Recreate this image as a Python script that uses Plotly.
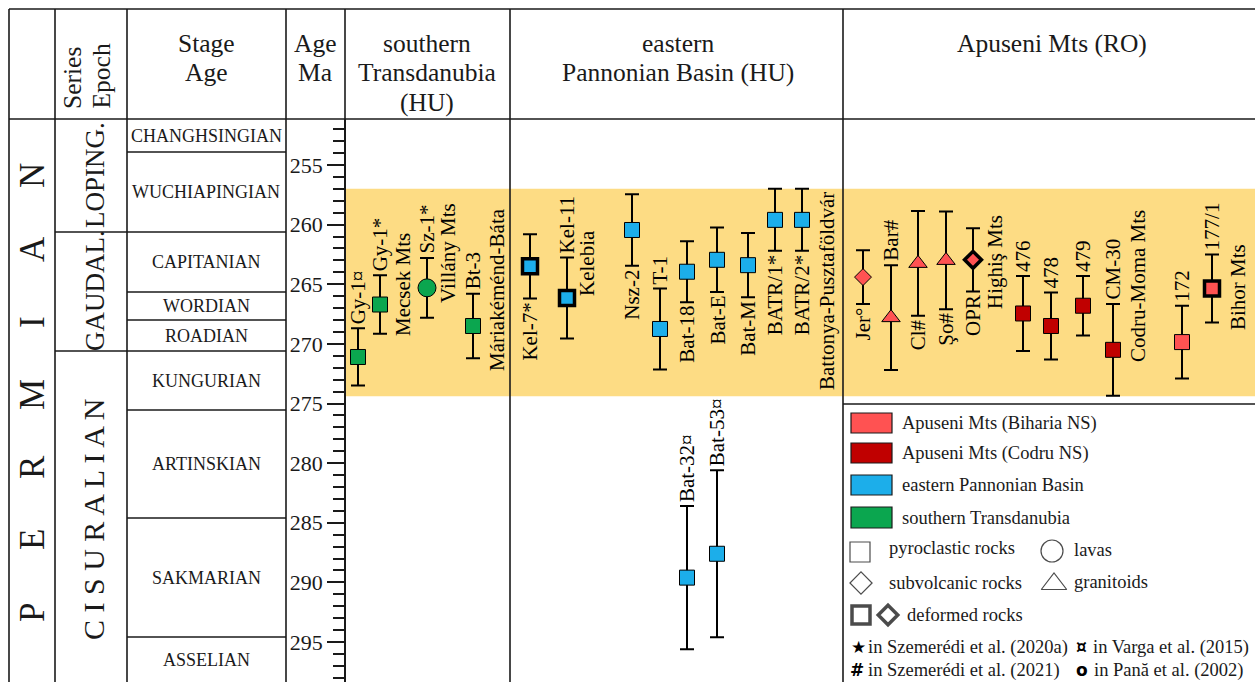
import plotly.graph_objects as go

W, H = 1255, 682
FONT = "Liberation Serif"
INK = "#1a1a1a"

# ---------------- data ----------------
system_name = "PERMIAN"
series_names = ["LOPING.", "GAUDAL.", "C I S U R A L I A N"]
stage_names = ["CHANGHSINGIAN", "WUCHIAPINGIAN", "CAPITANIAN", "WORDIAN", "ROADIAN",
               "KUNGURIAN", "ARTINSKIAN", "SAKMARIAN", "ASSELIAN"]
age_major_ticks = [255, 260, 265, 270, 275, 280, 285, 290, 295]

sample_names = ["Gy-1¤", "Gy-1*", "Sz-1*", "Bt-3",
                "Kel-7*", "Kel-11", "Nsz-2", "T-1", "Bat-18", "Bat-E", "Bat-M",
                "BATR/1*", "BATR/2*", "Bat-32¤", "Bat-53¤",
                "Jer°", "Bar#", "Cl#", "Şo#", "OPR",
                "476", "478", "479", "CM-30", "172", "177/1"]
sample_ages = [271.1, 266.7, 265.3, 268.5,
               263.5, 266.15, 260.45, 268.75, 263.95, 262.95, 263.4,
               259.6, 259.6, 289.6, 287.6,
               264.4, 267.8, 263.25, 263.0, 262.95,
               267.45, 268.5, 266.8, 270.5, 269.85, 265.35]
sample_errs = [2.4, 2.45, 2.5, 2.7,
               2.7, 3.4, 3.0, 3.4, 2.55, 2.7, 2.7,
               2.6, 2.6, 6.0, 7.0,
               2.25, 4.4, 4.4, 4.1, 2.65,
               3.15, 2.8, 2.5, 3.85, 3.05, 2.85]
sample_group = ["ST"] * 4 + ["EPB"] * 11 + ["BNS"] * 5 + ["CNS"] * 4 + ["BNS"] * 2
sample_rock = (["pyro", "pyro", "lava", "pyro"] + ["pyro"] * 11 +
               ["subv", "gran", "gran", "gran", "subv"] + ["pyro"] * 6)
sample_deformed = [False] * 4 + [True, True] + [False] * 9 + \
                  [False, False, False, False, True] + [False] * 5 + [True]

locality_names = ["Mecsek Mts", "Villány Mts", "Máriakéménd-Báta", "Kelebia",
                  "Battonya-Pusztaföldvár", "Highiş Mts", "Codru-Moma Mts", "Bihor Mts"]

group_keys = ["BNS", "CNS", "EPB", "ST"]
group_names = ["Apuseni Mts (Biharia NS)", "Apuseni Mts (Codru NS)",
               "eastern Pannonian Basin", "southern Transdanubia"]
rock_names = ["pyroclastic rocks", "lavas", "subvolcanic rocks", "granitoids", "deformed rocks"]
ref_marks = ["★", "¤", "#", "o"]
ref_texts = ["in Szemerédi et al. (2020a)", "in Varga et al. (2015)",
             "in Szemerédi et al. (2021)", "in Pană et al. (2002)"]

header_lines = [["Stage", "Age"], ["Age", "Ma"], ["southern", "Transdanubia", "(HU)"],
                ["eastern", "Pannonian Basin (HU)"], ["Apuseni Mts (RO)"]]
series_header = ["Series", "Epoch"]
highlight_band = [257.0, 274.4]

# ---------------- styles / layout positions ----------------
group_colors = {"BNS": "#FF5252", "CNS": "#C00000", "EPB": "#1CAEEA", "ST": "#0BA64F"}
rock_symbols = {"pyro": "square", "lava": "circle", "subv": "diamond", "gran": "triangle-up"}
rock_sizes = {"pyro": 15, "lava": 18, "subv": 13, "gran": 16}

sample_x = [358, 380, 427, 473,
            530, 567, 632, 660, 687, 717, 748, 775, 802, 687, 717,
            863, 891, 918, 946, 973,
            1023, 1051, 1083, 1113, 1182, 1212]
label_above = [True, True, True, True,
               False, True, False, True, False, False, False, False, False, True, True,
               False, True, False, False, False,
               True, True, True, True, True, True]
locality_xy = [(403, 285), (448, 253), (497, 290), (587, 263),
               (827, 291), (995, 262), (1138, 286), (1238, 287)]

stage_bounds_px = [119, 152, 232, 292, 320, 351, 410, 518, 637, 682]
series_bounds_px = [119, 232, 351, 682]
series_label_px = [(95, 175, 27), (95, 291, 27), (93, 520, 30)]
system_letter_y = [613, 540, 467, 395, 322, 249, 176]
col_lines_x = [9, 55, 127, 286, 345, 510, 843]
header_x = [206, 315, 427, 678, 1052]
header_y0 = 43
header_dy = 29.5

# age axis calibration: pixel 165 -> 255 Ma, pixel 642 -> 295 Ma
PX_PER_MA = (642 - 165) / 40.0
AX_TOP_PX = 119
age_top = 255 - (165 - AX_TOP_PX) / PX_PER_MA
age_bot = 255 + (H - 165) / PX_PER_MA

fig = go.Figure()

# ---------------- sample markers ----------------
for i, name in enumerate(sample_names):
    rock = sample_rock[i]
    deformed = sample_deformed[i]
    fig.add_trace(go.Scatter(
        x=[sample_x[i]], y=[sample_ages[i]], mode="markers", name=name,
        xaxis="x", yaxis="y", showlegend=False, hoverinfo="skip",
        marker=dict(symbol=rock_symbols[rock], size=rock_sizes[rock],
                    color=group_colors[sample_group[i]],
                    line=dict(color="black", width=3.5 if deformed else 1)),
        error_y=dict(type="data", array=[sample_errs[i]], symmetric=True,
                     color="black", thickness=2, width=7),
    ))

annotations = []
for i, name in enumerate(sample_names):
    if label_above[i]:
        yv, ya, ys = sample_ages[i] - sample_errs[i], "bottom", 2
    else:
        yv, ya, ys = sample_ages[i] + sample_errs[i], "top", -2
    annotations.append(dict(x=sample_x[i], y=yv, xref="x", yref="y", text=name,
                            textangle=-90, showarrow=False, xanchor="center",
                            yanchor=ya, yshift=ys,
                            font=dict(family=FONT, size=21, color="black")))

for name, (px, py) in zip(locality_names, locality_xy):
    annotations.append(dict(x=px, y=py, xref="x2", yref="y2", text=name, textangle=-90,
                            showarrow=False, xanchor="center", yanchor="middle",
                            font=dict(family=FONT, size=21, color="black")))

# ---------------- table text ----------------
for letter, py in zip(system_name, system_letter_y):
    annotations.append(dict(x=32, y=py, xref="x2", yref="y2", text=letter, textangle=-90,
                            showarrow=False, font=dict(family=FONT, size=35, color=INK)))
for name, (px, py, fs) in zip(series_names, series_label_px):
    annotations.append(dict(x=px, y=py, xref="x2", yref="y2", text=name, textangle=-90,
                            showarrow=False, font=dict(family=FONT, size=fs, color=INK)))
for k, name in enumerate(stage_names):
    yc = (stage_bounds_px[k] + stage_bounds_px[k + 1]) / 2
    annotations.append(dict(x=206, y=yc, xref="x2", yref="y2", text=name,
                            showarrow=False, font=dict(family=FONT, size=18, color=INK)))
for hx, lines in zip(header_x, header_lines):
    for j, t in enumerate(lines):
        annotations.append(dict(x=hx, y=header_y0 + j * header_dy, xref="x2", yref="y2",
                                text=t, showarrow=False,
                                font=dict(family=FONT, size=25.5, color=INK)))
for t, px in zip(series_header, [72, 101]):
    annotations.append(dict(x=px, y=111, xref="x2", yref="y2", text=t, textangle=-90,
                            showarrow=False, yanchor="bottom",
                            font=dict(family=FONT, size=25.5, color=INK)))

# ---------------- legend ----------------
shapes = []
leg_rect_y = [(413, 433), (443, 463), (475, 495), (507, 528)]
for key, label, (y0, y1) in zip(group_keys, group_names, leg_rect_y):
    shapes.append(dict(type="rect", xref="x2", yref="y2", x0=851, x1=892, y0=y0, y1=y1,
                       fillcolor=group_colors[key], line=dict(color=INK, width=1.2)))
    annotations.append(dict(x=900, y=(y0 + y1) / 2, xref="x2", yref="y2", text=label,
                            showarrow=False, xanchor="left",
                            font=dict(family=FONT, size=18.5, color=INK)))

rock_text_xy = [(887, 548), (1072, 550), (887, 583), (1072, 582), (905, 615)]
for label, (px, py) in zip(rock_names, rock_text_xy):
    annotations.append(dict(x=px, y=py, xref="x2", yref="y2", text=label,
                            showarrow=False, xanchor="left",
                            font=dict(family=FONT, size=18.5, color=INK)))

fig.add_trace(go.Scatter(
    x=[860, 1052, 861, 1054], y=[552, 551, 583, 584],
    xaxis="x2", yaxis="y2", mode="markers", showlegend=False, hoverinfo="skip",
    marker=dict(symbol=["square", "circle", "diamond", "triangle-up"],
                size=[20, 22, 17, 22], color="white",
                line=dict(color="black", width=1.2))))
fig.add_trace(go.Scatter(
    x=[861, 888], y=[615, 615],
    xaxis="x2", yaxis="y2", mode="markers", showlegend=False, hoverinfo="skip",
    marker=dict(symbol=["square", "diamond"], size=[18, 15], color="white",
                line=dict(color="black", width=3.5))))

ref_xy = [(858, 866, 647), (1081, 1091, 647), (857, 866, 670), (1082, 1092, 670)]
for mark, text, (mx, tx, py) in zip(ref_marks, ref_texts, ref_xy):
    annotations.append(dict(x=mx, y=py, xref="x2", yref="y2",
                            text="<b>%s</b>" % mark, showarrow=False,
                            font=dict(family="DejaVu Sans", size=17 if mark == "★" else 17,
                                      color="black")))
    annotations.append(dict(x=tx, y=py, xref="x2", yref="y2", text=text, showarrow=False,
                            xanchor="left", font=dict(family=FONT, size=18.5, color=INK)))

# ---------------- grid of the table ----------------
shapes.append(dict(type="rect", xref="x", yref="y", x0=346, x1=W,
                   y0=highlight_band[0], y1=highlight_band[1],
                   fillcolor="#FDDC84", line=dict(width=0), layer="below"))


def hline(y, x0, x1):
    shapes.append(dict(type="line", xref="x2", yref="y2", x0=x0, x1=x1, y0=y, y1=y,
                       line=dict(color=INK, width=1.6)))


def vline(x, y0, y1):
    shapes.append(dict(type="line", xref="x2", yref="y2", x0=x, x1=x, y0=y0, y1=y1,
                       line=dict(color=INK, width=1.6)))


hline(9, 9, W)
hline(119, 9, W)
for b in stage_bounds_px[1:-1]:
    hline(b, 127, 286)
for b in series_bounds_px[1:-1]:
    hline(b, 55, 127)
hline(404, 843, W)
for cx in col_lines_x:
    vline(cx, 9, H)

fig.update_layout(
    width=W, height=H, margin=dict(l=0, r=0, t=0, b=0),
    paper_bgcolor="white", plot_bgcolor="rgba(0,0,0,0)",
    showlegend=False, shapes=shapes, annotations=annotations,
    xaxis=dict(domain=[0, 1], range=[0, W], visible=False, fixedrange=True, anchor="y"),
    yaxis=dict(domain=[0, 1 - AX_TOP_PX / H], range=[age_bot, age_top],
               anchor="free", position=345 / W, side="left",
               tickmode="array", tickvals=age_major_ticks,
               ticks="outside", ticklen=17, tickwidth=1.5, tickcolor=INK,
               showline=True, linecolor=INK, linewidth=1.6, showgrid=False,
               zeroline=False, fixedrange=True,
               tickfont=dict(family=FONT, size=22, color=INK),
               minor=dict(dtick=1, tick0=255, ticks="outside", ticklen=11,
                          tickwidth=1.5, tickcolor=INK, showgrid=False)),
    xaxis2=dict(domain=[0, 1], range=[0, W], visible=False, fixedrange=True, anchor="y2"),
    yaxis2=dict(domain=[0, 1], range=[H, 0], visible=False, fixedrange=True, anchor="x2"),
)

fig.write_html("out.html")
